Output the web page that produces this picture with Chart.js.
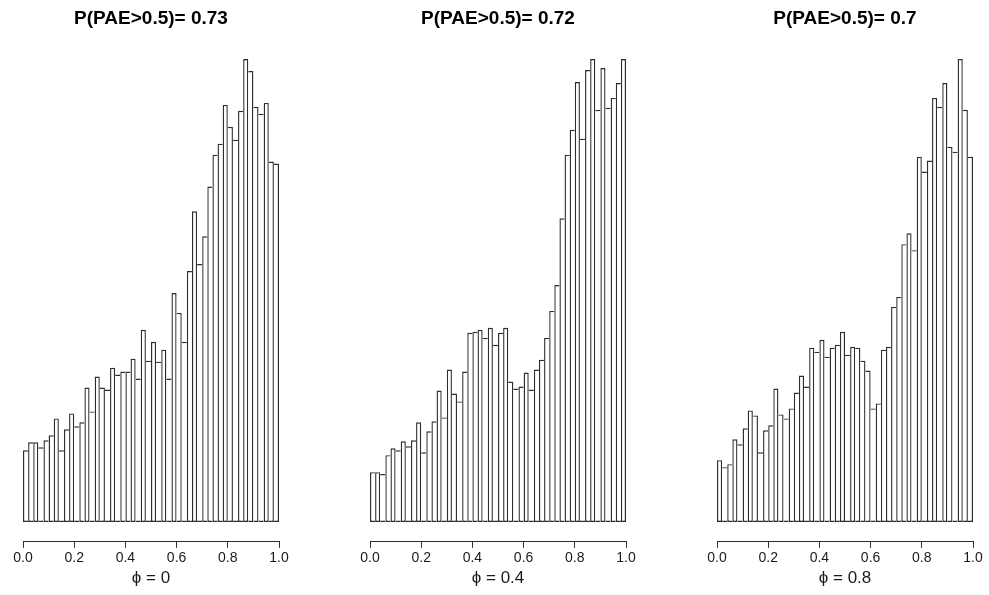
<!DOCTYPE html>
<html>
<head>
<meta charset="utf-8">
<script src="https://cdn.jsdelivr.net/npm/chart.js@4.4.1/dist/chart.umd.min.js"></script>
<style>
    html, body { margin: 0; padding: 0; background: #fff; }
    #wrap { position: relative; width: 989px; height: 595px; }
    .panel { position: absolute; top: 0; }
</style>
</head>
<body>
<div id="wrap">
    <canvas class="panel" id="hist-0" width="302" height="595" style="left:0px"></canvas>
    <canvas class="panel" id="hist-1" width="302" height="595" style="left:347px"></canvas>
    <canvas class="panel" id="hist-2" width="302" height="595" style="left:694px"></canvas>
</div>
<script>
    "use strict";

    // histogram bins: 50 bins of width 0.02 over [0, 1]
    var BIN_WIDTH = 0.02;
    var TICKS = [0, 0.2, 0.4, 0.6, 0.8, 1.0];

    var titles = ["P(PAE>0.5)= 0.73", "P(PAE>0.5)= 0.72", "P(PAE>0.5)= 0.7"];
    var xLabels = ["\u03d5 = 0", "\u03d5 = 0.4", "\u03d5 = 0.8"];

    // bar heights (relative counts, no y axis shown)
    var countsPhi0 = [72, 80, 80, 75, 82, 87, 104, 72, 93, 109, 96, 100, 135, 111, 146,
        135, 133, 155, 148, 151, 151, 164, 144, 193, 162, 181, 161, 173, 144, 230,
        210, 181, 252, 312, 259, 287, 337, 369, 380, 419, 397, 384, 413, 465, 453,
        417, 410, 421, 362, 360];
    var countsPhi04 = [50, 50, 48, 67, 74, 72, 81, 76, 82, 100, 70, 91, 101, 132, 105,
        153, 129, 121, 151, 190, 191, 193, 185, 195, 178, 190, 195, 141, 134, 136,
        150, 133, 153, 163, 185, 212, 238, 305, 369, 394, 442, 385, 454, 465, 414,
        456, 416, 426, 441, 465];
    var countsPhi08 = [62, 55, 58, 83, 78, 94, 112, 107, 70, 92, 97, 134, 108, 104, 114,
        130, 147, 136, 175, 171, 183, 166, 175, 178, 191, 168, 176, 175, 162, 152,
        114, 119, 173, 176, 216, 226, 279, 290, 273, 367, 352, 363, 426, 417, 441,
        377, 372, 465, 414, 367];

    var series = [countsPhi0, countsPhi04, countsPhi08];

    var LINE = "#2e2e2e";
    var EDGE = 1.4;
    var TEXT = "#1a1a1a";

    function toPoints(counts) {
        var pts = [];
        for (var i = 0; i < counts.length; i++) {
            pts.push({ x: (i + 0.5) * BIN_WIDTH, y: counts[i] });
        }
        return pts;
    }

    // draw each shared edge only once, like R's rect outlines
    function edgeWidths(counts) {
        return function(ctx) {
            var i = ctx.dataIndex;
            var cur = counts[i];
            var left = (i === 0 || counts[i - 1] <= cur) ? EDGE : 0;
            var right = (i === counts.length - 1 || counts[i + 1] < cur) ? EDGE : 0;
            return { top: EDGE, bottom: EDGE, left: left, right: right };
        };
    }

    function createHist(canvas, counts, title, xLabel) {
        return new Chart(canvas, {
            type: "bar",
            data: {
                datasets: [{
                    data: toPoints(counts),
                    backgroundColor: "#ffffff",
                    borderColor: LINE,
                    borderWidth: edgeWidths(counts),
                    borderSkipped: false,
                    inflateAmount: 0,
                    barPercentage: 1,
                    categoryPercentage: 1
                }]
            },
            options: {
                responsive: false,
                animation: false,
                devicePixelRatio: 1,
                layout: { padding: { left: 23, right: 23, top: 0, bottom: 6 } },
                plugins: {
                    legend: { display: false },
                    tooltip: { enabled: false },
                    title: {
                        display: true,
                        text: title,
                        color: "#000",
                        font: { family: "'Liberation Sans', Arial, sans-serif", size: 19, weight: "bold" },
                        padding: { top: 7, bottom: 29 }
                    }
                },
                scales: {
                    x: {
                        type: "linear",
                        min: 0,
                        max: 1,
                        offset: false,
                        grid: {
                            offset: false,
                            drawOnChartArea: false,
                            drawTicks: true,
                            tickLength: 6,
                            color: LINE
                        },
                        border: { display: true, color: LINE, width: 1 },
                        afterBuildTicks: function(scale) {
                            scale.ticks = TICKS.map(function(v) { return { value: v }; });
                        },
                        ticks: {
                            padding: 2,
                            color: TEXT,
                            maxRotation: 0,
                            autoSkip: false,
                            font: { family: "'Liberation Sans', Arial, sans-serif", size: 14 },
                            callback: function(v) { return Number(v).toFixed(1); }
                        },
                        title: {
                            display: true,
                            text: xLabel,
                            color: TEXT,
                            padding: { top: 0, bottom: 0 },
                            font: { family: "'Liberation Sans', 'DejaVu Sans', sans-serif", size: 17 }
                        }
                    },
                    y: {
                        display: false,
                        min: -20,
                        max: 465.3
                    }
                }
            }
        });
    }

    for (var k = 0; k < series.length; k++) {
        createHist(document.getElementById("hist-" + k), series[k], titles[k], xLabels[k]);
    }
</script>
</body>
</html>
